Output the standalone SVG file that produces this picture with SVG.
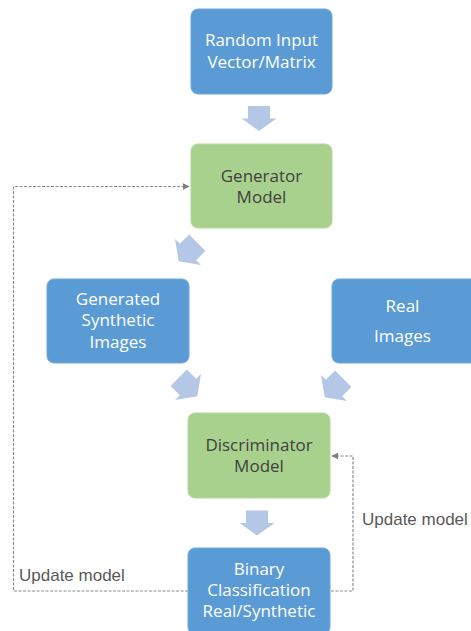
<svg xmlns="http://www.w3.org/2000/svg" width="471" height="631" viewBox="0 0 471 631">
<style>
.blue{fill:#5b9bd5;stroke:#6fa8dc;stroke-width:1}
.green{fill:#a9d18e;stroke:#b5d89c;stroke-width:1}
.wt{font-family:"Open Sans","Liberation Sans",sans-serif;font-size:17px;fill:#ffffff;text-anchor:middle}
.dt{font-family:"Open Sans","Liberation Sans",sans-serif;font-size:17px;fill:#404040;text-anchor:middle}
.lbl{font-family:"Liberation Sans",Arial,sans-serif;font-size:17px;fill:#595959}
.dash{fill:none;stroke:#8c8c8c;stroke-width:1.2;stroke-dasharray:3 1.5}
.blk{fill:#b4c7e7}
</style>
<defs>
<path id="blockArrow" d="M-11,-12.5 H11 V0 H17.5 L0,12.5 L-17.5,0 H-11 Z"/>
<marker id="ah" viewBox="0 0 10 10" refX="9" refY="5" markerWidth="7" markerHeight="7" markerUnits="userSpaceOnUse" orient="auto">
<path d="M0,0 L10,5 L0,10 Z" fill="#7f7f7f"/>
</marker>
</defs>
<g id="connectors">
<use href="#blockArrow" class="blk" transform="translate(259,118.5)"/>
<use href="#blockArrow" class="blk" transform="translate(188,252) rotate(45) scale(1.05)"/>
<use href="#blockArrow" class="blk" transform="translate(188,387) rotate(-45) scale(1.05)"/>
<use href="#blockArrow" class="blk" transform="translate(334,388) rotate(45) scale(1.05)"/>
<use href="#blockArrow" class="blk" transform="translate(257,523)"/>
<path class="dash" d="M188,591 H13.5 V186.5 H189" marker-end="url(#ah)"/>
<path class="dash" d="M331,591 H353 V456 H332" marker-end="url(#ah)"/>
<text class="lbl" x="19" y="581">Update model</text>
<text class="lbl" x="362" y="525">Update model</text>
</g>
<g id="random-input">
<rect class="blue" x="191" y="9" width="141" height="85" rx="7"/>
<text class="wt" x="261.5" y="46">Random Input</text>
<text class="wt" x="261.5" y="68">Vector/Matrix</text>
</g>
<g id="generator">
<rect class="green" x="191" y="144" width="141" height="84" rx="7"/>
<text class="dt" x="261.5" y="182">Generator</text>
<text class="dt" x="261.5" y="203">Model</text>
</g>
<g id="generated-images">
<rect class="blue" x="47" y="279" width="142" height="84" rx="7"/>
<text class="wt" x="118" y="305">Generated</text>
<text class="wt" x="118" y="326">Synthetic</text>
<text class="wt" x="118" y="348">Images</text>
</g>
<g id="real-images">
<rect class="blue" x="332" y="279" width="146" height="84" rx="7"/>
<text class="wt" x="402.5" y="312">Real</text>
<text class="wt" x="402.5" y="342">Images</text>
</g>
<g id="discriminator">
<rect class="green" x="188" y="413" width="142" height="85" rx="7"/>
<text class="dt" x="259" y="451">Discriminator</text>
<text class="dt" x="259" y="472">Model</text>
</g>
<g id="binary-classification">
<rect class="blue" x="188" y="548" width="142" height="86" rx="7"/>
<text class="wt" x="259" y="575">Binary</text>
<text class="wt" x="259" y="596">Classification</text>
<text class="wt" x="259" y="617">Real/Synthetic</text>
</g>
</svg>
